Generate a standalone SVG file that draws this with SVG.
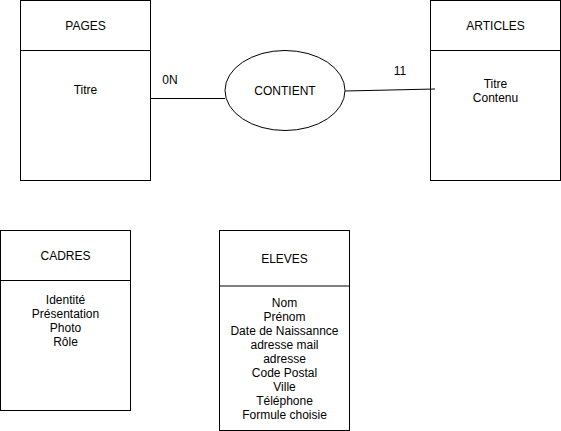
<svg xmlns="http://www.w3.org/2000/svg" width="561" height="431" viewBox="0 0 561 431">
<style>
.box{fill:#fff;stroke:#000;stroke-width:1}
.ln{stroke:#000;stroke-width:1;fill:none}
text{font-family:"Liberation Sans",Arial,Helvetica,sans-serif;font-size:12px;fill:#000;text-anchor:middle;dominant-baseline:central}
</style>
<rect width="561" height="431" fill="#fff"/>
<g id="pages">
<rect class="box" x="20.5" y="0.5" width="130" height="180"/>
<line class="ln" x1="20.5" y1="50.5" x2="150.5" y2="50.5"/>
<text x="85.5" y="25.5">PAGES</text>
<text x="85.5" y="90">Titre</text>
</g>
<g id="contient">
<ellipse class="box" cx="285" cy="90.5" rx="60" ry="40"/>
<text x="285" y="90.5">CONTIENT</text>
</g>
<g id="articles">
<rect class="box" x="430.5" y="0.5" width="130" height="180"/>
<line class="ln" x1="430.5" y1="50.5" x2="560.5" y2="50.5"/>
<text x="495.5" y="25.5">ARTICLES</text>
<text x="495.5" y="84">Titre</text>
<text x="495.5" y="98">Contenu</text>
</g>
<g id="cadres">
<rect class="box" x="0.5" y="230.5" width="130" height="180"/>
<line class="ln" x1="0.5" y1="280.5" x2="130.5" y2="280.5"/>
<text x="65.5" y="255.5">CADRES</text>
<text x="65.5" y="300">Identité</text>
<text x="65.5" y="314">Présentation</text>
<text x="65.5" y="328">Photo</text>
<text x="65.5" y="342">Rôle</text>
</g>
<g id="eleves">
<rect class="box" x="219.5" y="230.5" width="130" height="200"/>
<line class="ln" x1="219.5" y1="286" x2="349.5" y2="286"/>
<text x="284.5" y="258.5">ELEVES</text>
<text x="284.5" y="303">Nom</text>
<text x="284.5" y="317">Prénom</text>
<text x="284.5" y="331">Date de Naissannce</text>
<text x="284.5" y="345">adresse mail</text>
<text x="284.5" y="359">adresse</text>
<text x="284.5" y="373">Code Postal</text>
<text x="284.5" y="387">Ville</text>
<text x="284.5" y="401">Téléphone</text>
<text x="284.5" y="415">Formule choisie</text>
</g>
<g id="connectors">
<line class="ln" x1="150.5" y1="98.5" x2="225" y2="98.5"/>
<line class="ln" x1="345" y1="91" x2="435" y2="89"/>
<text x="170" y="80">0N</text>
<text x="400" y="71">11</text>
</g>
</svg>
